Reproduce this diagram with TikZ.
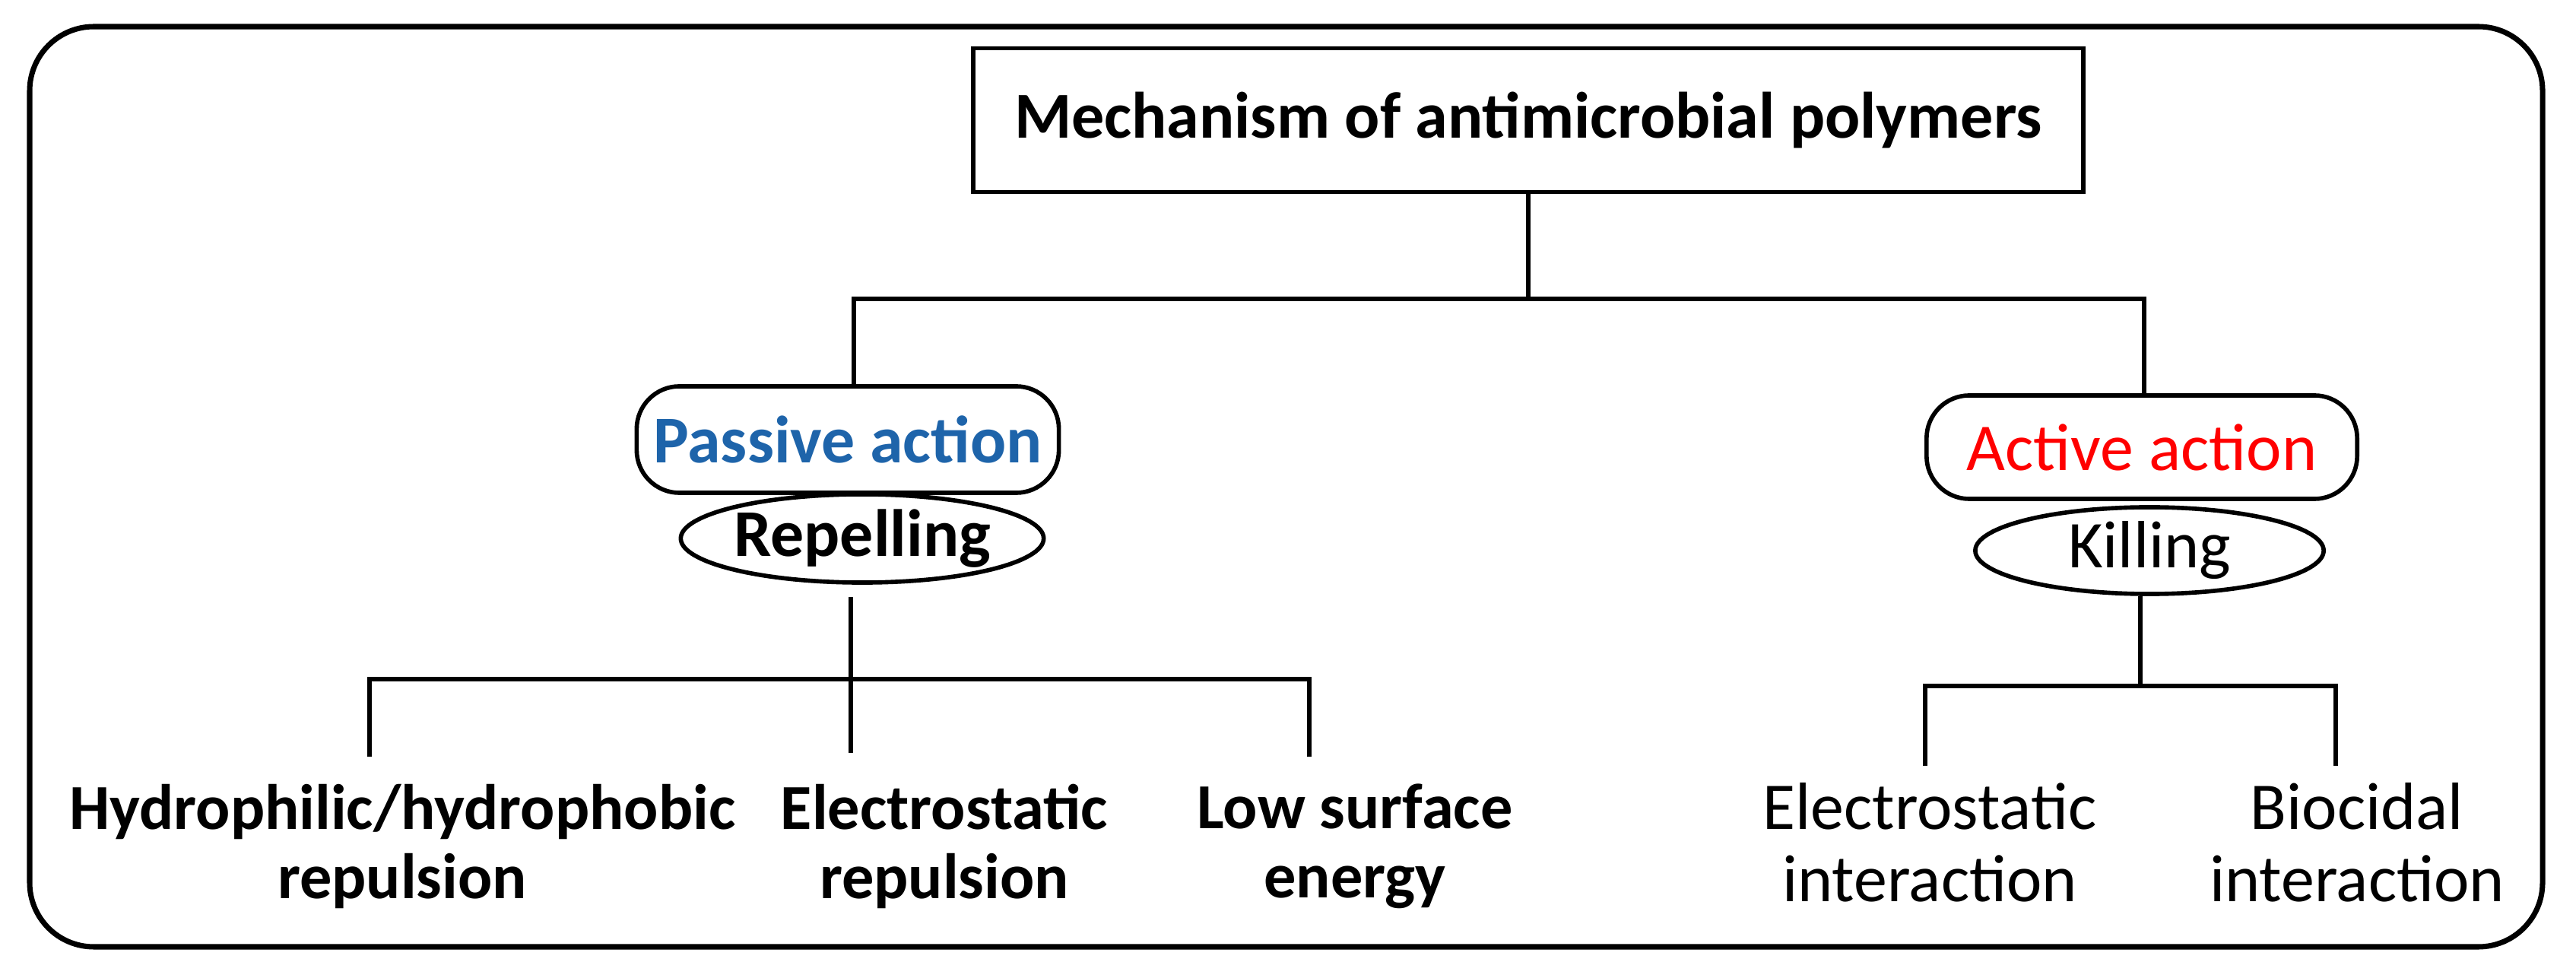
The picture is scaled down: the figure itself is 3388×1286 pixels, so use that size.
\documentclass[tikz,border=0pt]{standalone}
\usepackage{fontspec}
\setmainfont{Carlito}
\usetikzlibrary{shapes.geometric}
\definecolor{pblue}{RGB}{30,100,170}
\begin{document}
\begin{tikzpicture}[x=0.01cm,y=-0.01cm,line width=1.6pt,
  lab/.style={font=\fontsize{25}{27}\selectfont,align=center},
  blab/.style={font=\fontsize{24}{26}\selectfont\bfseries,align=center},
  rbox/.style={draw,rounded corners=16pt}]
\useasboundingbox (0,0) rectangle (3388,1286);
\draw[rounded corners=24pt,line width=2pt] (39,35) rectangle (3344,1245);
\node[draw,minimum width=14.59cm,minimum height=1.89cm,font=\fontsize{24.5}{27}\selectfont\bfseries] (t) at (2010,158) {Mechanism of antimicrobial polymers};
\node[rbox,minimum width=5.55cm,minimum height=1.4cm,font=\fontsize{25}{27}\selectfont\bfseries,text=pblue] (pa) at (1115,578) {Passive action};
\node[draw,ellipse,minimum width=4.76cm,minimum height=1.16cm,inner sep=0pt,font=\fontsize{25}{27}\selectfont\bfseries] (rp) at (1134,708) {Repelling};
\node[rbox,minimum width=5.66cm,minimum height=1.36cm,lab,text=red] (aa) at (2817,588) {Active action};
\node[draw,ellipse,minimum width=4.58cm,minimum height=1.14cm,inner sep=0pt,lab] (kl) at (2827,724) {Killing};
\node[blab] (h) at (529,1113) {Hydrophilic/hydrophobic\\repulsion};
\node[blab] (e) at (1242,1113) {Electrostatic\\repulsion};
\node[blab] (l) at (1782,1113) {Low surface\\energy};
\node[lab] (ei) at (2538,1108) {Electrostatic\\interaction};
\node[lab] (bi) at (3100,1108) {Biocidal\\interaction};
\coordinate (j1) at (2010,393);
\coordinate (j2) at (1119,893);
\coordinate (j3) at (2815,902);
\draw (t.south -| j1) -- (j1);
\draw (1123,508) -- (1123,393) -- (2820,393) -- (2820,520);
\draw (1119,785) -- (j2);
\draw (486,995) -- (486,893) -- (1722,893) -- (1722,995);
\draw (j2) -- (1119,990);
\draw (kl.south -| j3) -- (j3);
\draw (2532,1007) -- (2532,902) -- (3072,902) -- (3072,1007);
\end{tikzpicture}
\end{document}
